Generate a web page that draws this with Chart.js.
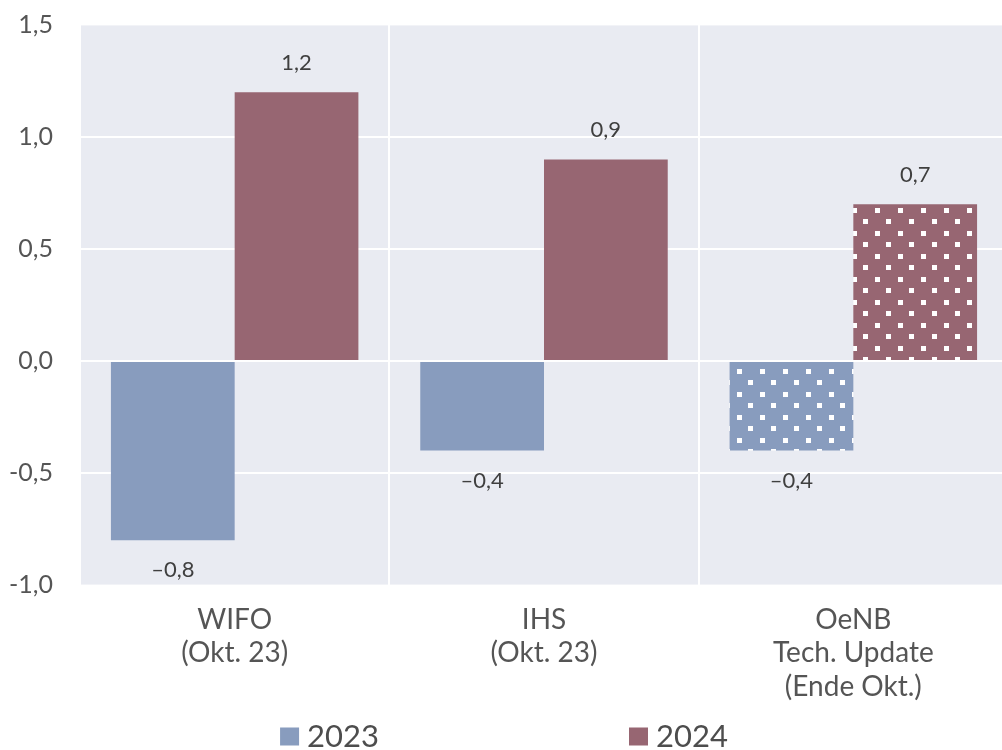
<!DOCTYPE html>
<html>
<head>
<meta charset="utf-8">
<script src="https://cdn.jsdelivr.net/npm/chart.js@4"></script>
<style>
  html, body { margin: 0; padding: 0; background: #ffffff; overflow: hidden; }
  #wrap { position: relative; width: 1002px; height: 750px; overflow: hidden; }
</style>
</head>
<body>
<div id="wrap"><canvas id="c" width="1008" height="750"></canvas></div>
<script>
const categories = [["WIFO", "(Okt. 23)"], ["IHS", "(Okt. 23)"], ["OeNB", "Tech. Update", "(Ende Okt.)"]];
const seriesNames = ["2023", "2024"];
const values2023 = [-0.8, -0.4, -0.4];
const values2024 = [1.2, 0.9, 0.7];
const patterned = [false, false, true];
const yTicks = { min: -1.0, max: 1.5, step: 0.5 };

const BLUE = '#889cbe';
const RED = '#976672';
const BG = '#e9ebf2';
const TXT = '#555555';
const FONT = 'Lato, "Open Sans", sans-serif';
const VISIBLE_W = 1002;

function makePattern(color) {
  const t = document.createElement('canvas');
  t.width = 23; t.height = 23;
  const g = t.getContext('2d');
  g.fillStyle = color; g.fillRect(0, 0, 23, 23);
  g.fillStyle = '#ffffff';
  g.fillRect(1, 1, 5, 5);
  g.fillRect(12, 12, 5, 5);
  return document.getElementById('c').getContext('2d').createPattern(t, 'repeat');
}
const patBlue = makePattern(BLUE);
const patRed = makePattern(RED);

const bgPlugin = {
  id: 'bg',
  beforeDraw(chart) {
    const a = chart.chartArea, ctx = chart.ctx;
    ctx.save(); ctx.fillStyle = BG;
    ctx.fillRect(a.left, a.top, a.right - a.left, a.bottom - a.top);
    ctx.restore();
  }
};

const fmt = v => (v < 0 ? '\u2013' : '') + Math.abs(v).toFixed(1).replace('.', ',');

const labelPlugin = {
  id: 'vals',
  afterDatasetsDraw(chart) {
    const ctx = chart.ctx;
    ctx.save();
    ctx.font = '22px ' + FONT;
    ctx.fillStyle = '#3f3f3f';
    ctx.textAlign = 'center';
    ctx.textBaseline = 'middle';
    chart.data.datasets.forEach((ds, di) => {
      chart.getDatasetMeta(di).data.forEach((el, i) => {
        const v = ds.data[i];
        const y = v >= 0 ? el.y - 29 : el.y + 30;
        ctx.fillText(fmt(v), el.x, y);
      });
    });
    ctx.restore();
  }
};

const legendPlugin = {
  id: 'lg',
  afterDraw(chart) {
    const ctx = chart.ctx;
    ctx.save();
    ctx.font = '31px ' + FONT;
    ctx.textBaseline = 'middle';
    const box = 19, gapBox = 8, gapItem = 250;
    const cols = [BLUE, RED];
    const widths = seriesNames.map(n => box + gapBox + ctx.measureText(n).width);
    const total = widths.reduce((a, b) => a + b, 0) + gapItem * (widths.length - 1);
    let x = VISIBLE_W / 2 + 3 - total / 2;
    const cy = 737;
    seriesNames.forEach((n, i) => {
      ctx.fillStyle = cols[i];
      ctx.fillRect(x, cy - box / 2, box, 18);
      ctx.fillStyle = '#4d4d4d';
      ctx.fillText(n, x + box + gapBox, cy);
      x += widths[i] + gapItem;
    });
    ctx.restore();
  }
};

new Chart(document.getElementById('c'), {
  type: 'bar',
  data: {
    labels: categories,
    datasets: [
      { label: seriesNames[0], data: values2023,
        backgroundColor: patterned.map(p => p ? patBlue : BLUE),
        categoryPercentage: 0.8, barPercentage: 1.0, borderWidth: 0 },
      { label: seriesNames[1], data: values2024,
        backgroundColor: patterned.map(p => p ? patRed : RED),
        categoryPercentage: 0.8, barPercentage: 1.0, borderWidth: 0 }
    ]
  },
  options: {
    responsive: false,
    animation: false,
    devicePixelRatio: 1,
    layout: { padding: { top: 25, right: 0, bottom: 0, left: 0 } },
    plugins: { legend: { display: false }, tooltip: { enabled: false } },
    scales: {
      x: {
        grid: { color: '#ffffff', lineWidth: 2, drawTicks: false, offset: true },
        border: { display: false },
        ticks: { color: TXT, font: { family: FONT, size: 28, lineHeight: 1.2 }, padding: 18, maxRotation: 0 },
        afterFit(s) { s.height = 165; s.paddingLeft = 0; s.paddingRight = 0; }
      },
      y: {
        min: yTicks.min, max: yTicks.max,
        grid: { color: ctx => (ctx.index === 0 || ctx.tick && ctx.tick.value === yTicks.max) ? 'rgba(255,255,255,0.4)' : '#ffffff', lineWidth: 2, drawTicks: false },
        border: { display: false },
        ticks: { stepSize: yTicks.step, color: TXT, font: { family: FONT, size: 25 }, padding: 27,
          callback: v => v.toFixed(1).replace('.', ',') },
        afterFit(s) { s.width = 80; s.paddingTop = 0; s.paddingBottom = 0; }
      }
    }
  },
  plugins: [bgPlugin, labelPlugin, legendPlugin]
});
</script>
</body>
</html>
